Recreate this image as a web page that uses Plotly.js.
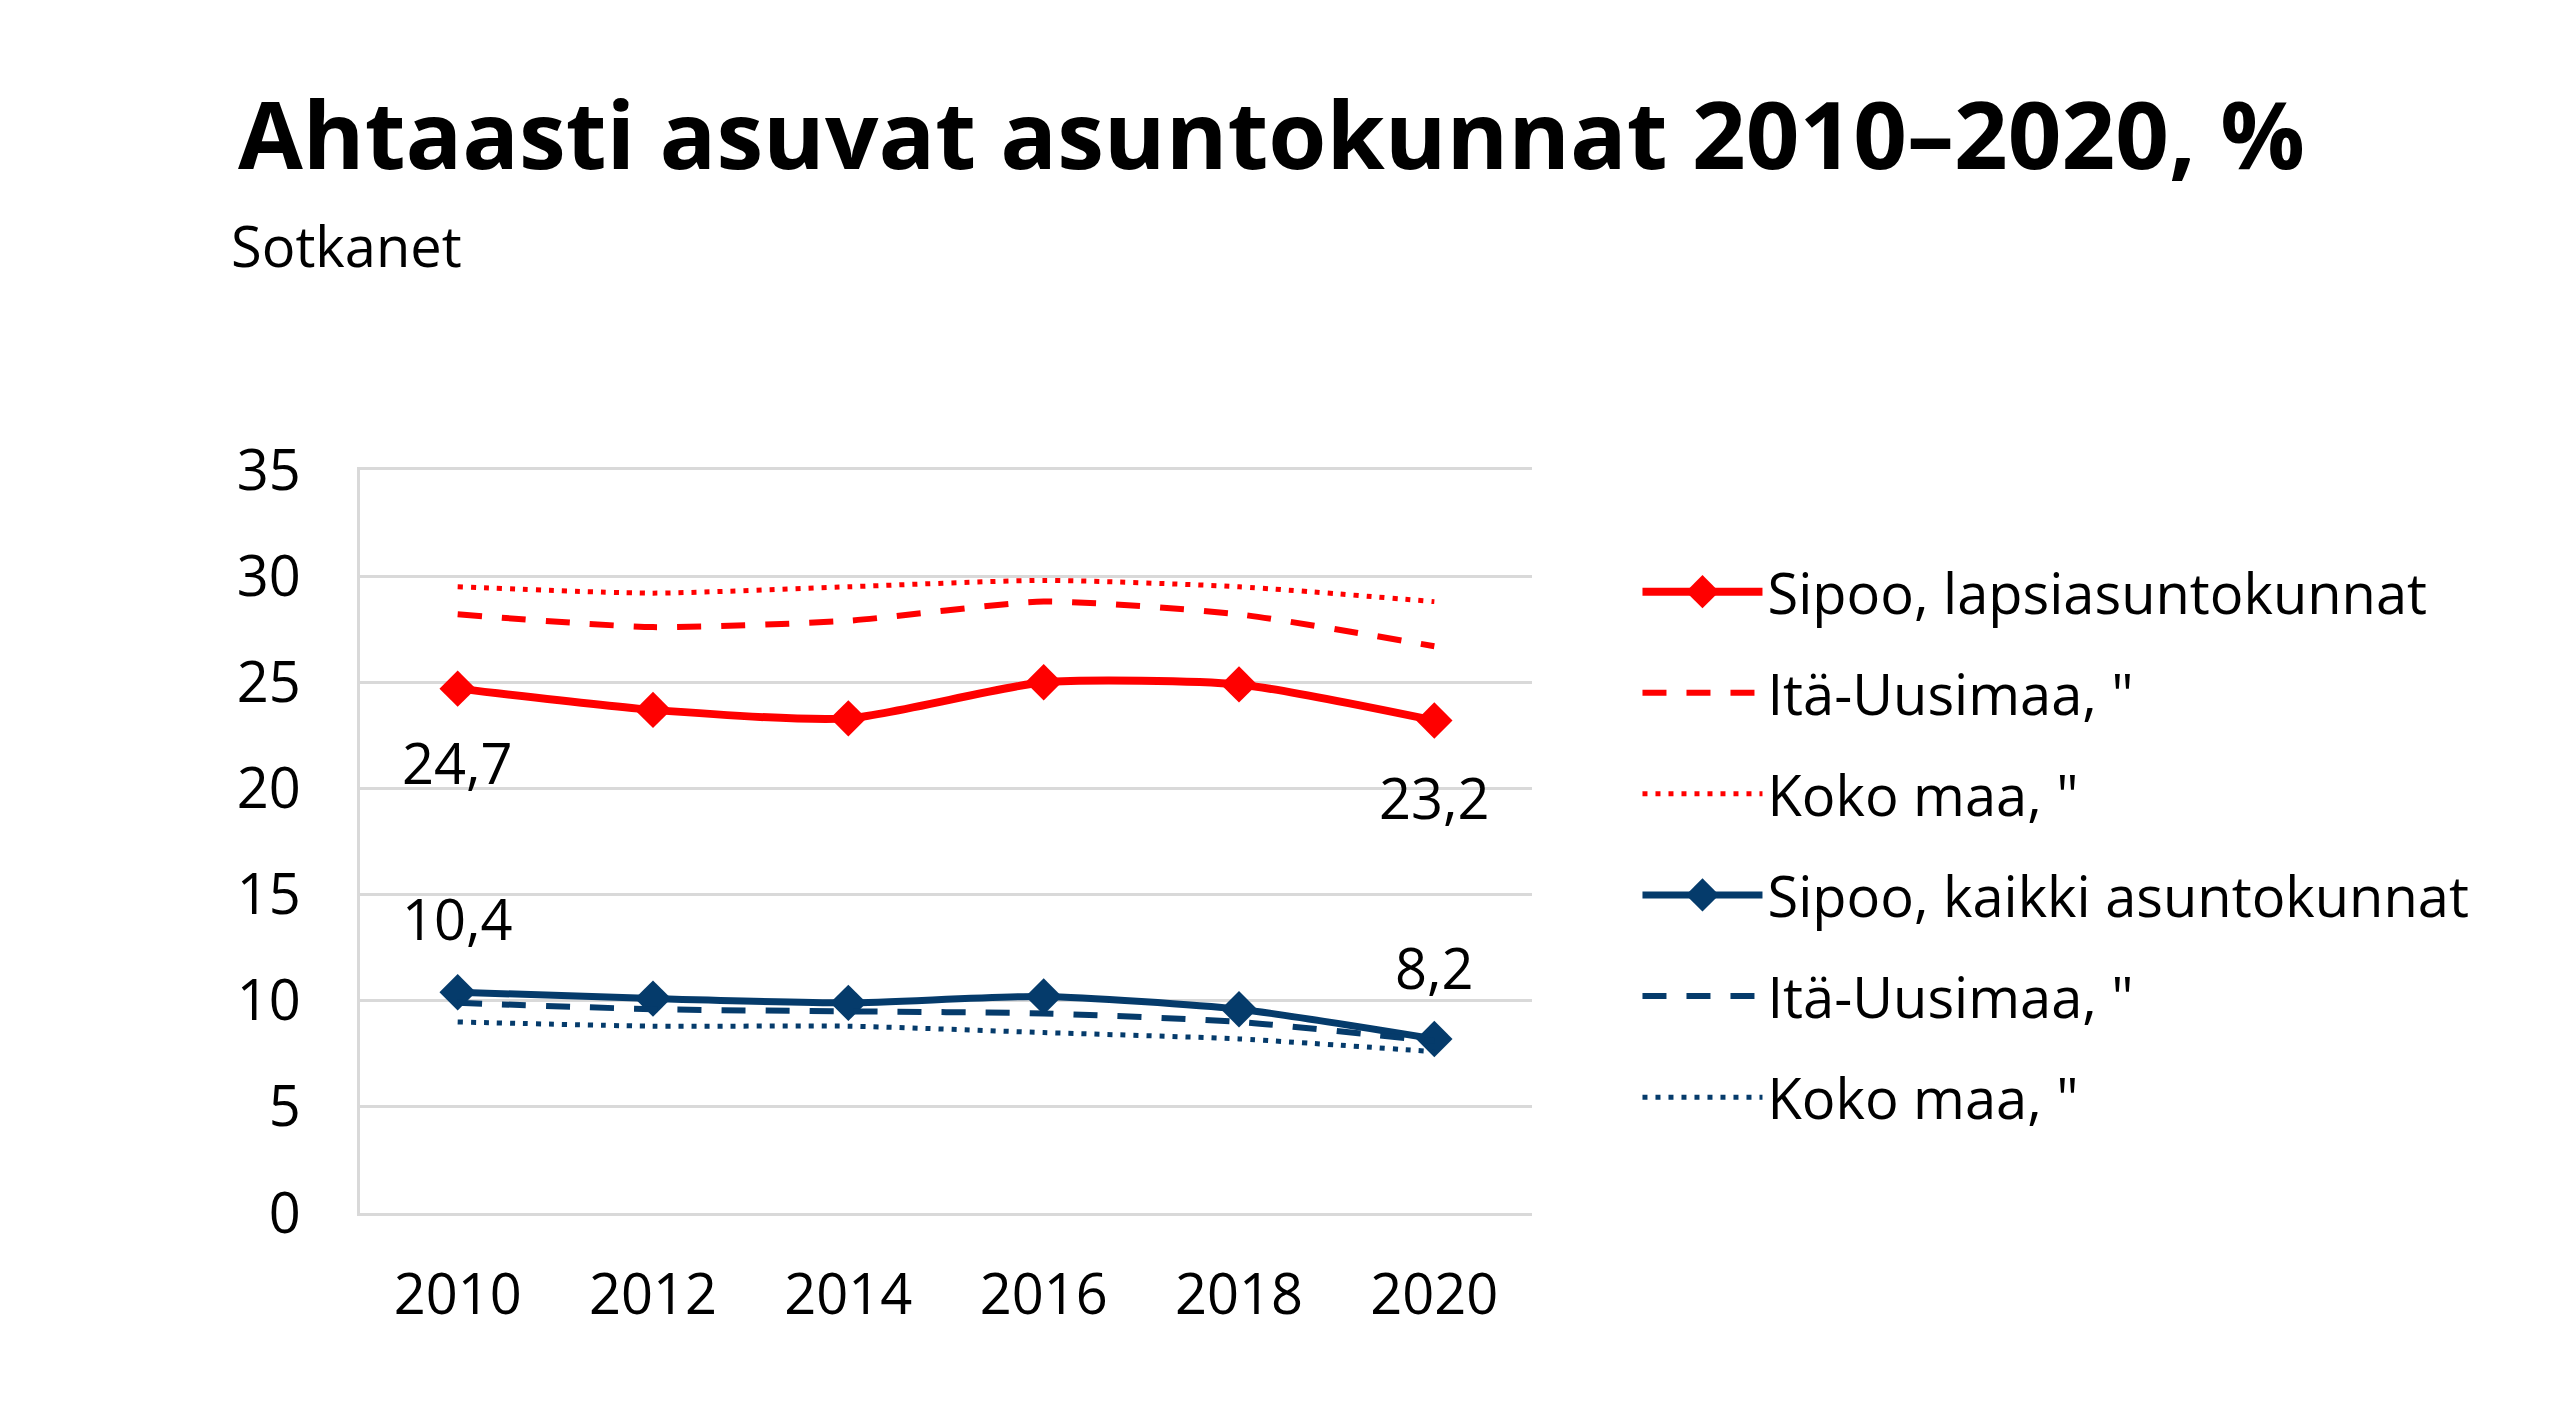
<!DOCTYPE html>
<html>
<head>
<meta charset="utf-8">
<script src="https://cdn.plot.ly/plotly-3.0.1.min.js"></script>
<style>html,body{margin:0;padding:0;background:#fff;}#chart{width:2560px;height:1416px;}</style>
</head>
<body>
<div id="chart"></div>
<script>
const years = [2010, 2012, 2014, 2016, 2018, 2020];
const sipooLapsi = [24.7, 23.7, 23.3, 25.0, 24.9, 23.2];
const itaUusimaaLapsi = [28.2, 27.6, 27.9, 28.8, 28.2, 26.7];
const kokoMaaLapsi = [29.5, 29.2, 29.5, 29.8, 29.5, 28.8];
const sipooKaikki = [10.4, 10.1, 9.9, 10.2, 9.6, 8.2];
const itaUusimaaKaikki = [9.9, 9.6, 9.5, 9.4, 9.0, 8.1];
const kokoMaaKaikki = [9.0, 8.8, 8.8, 8.5, 8.2, 7.6];
const seriesNames = ['Sipoo, lapsiasuntokunnat', 'Itä-Uusimaa, "', 'Koko maa, "',
                     'Sipoo, kaikki asuntokunnat', 'Itä-Uusimaa, "', 'Koko maa, "'];
const yTicks = [0, 5, 10, 15, 20, 25, 30, 35];

const RED = '#ff0000';
const BLUE = '#053b6b';
const FONT = 'Open Sans, sans-serif';

function mk(y, name, color, dash, width, markers, group) {
  return {
    x: years, y: y, name: name, type: 'scatter',
    mode: markers ? 'lines+markers' : 'lines',
    line: {color: color, width: width, dash: dash, shape: 'spline', smoothing: 0.6},
    marker: {symbol: 'diamond', size: 28, color: color},
    legendgroup: group, hoverinfo: 'skip'
  };
}

const traces = [
  mk(sipooLapsi, seriesNames[0], RED, 'solid', 8, true, 'g1'),
  mk(itaUusimaaLapsi, seriesNames[1], RED, '24px,20px', 6, false, 'g2'),
  mk(kokoMaaLapsi, seriesNames[2], RED, '5px,8px', 5, false, 'g3'),
  mk(sipooKaikki, seriesNames[3], BLUE, 'solid', 7, true, 'g4'),
  mk(itaUusimaaKaikki, seriesNames[4], BLUE, '24px,20px', 6, false, 'g5'),
  mk(kokoMaaKaikki, seriesNames[5], BLUE, '5px,8px', 5, false, 'g6')
];

function fmt(v) { return v.toFixed(1).replace('.', ','); }
const last = years.length - 1;
const labelFont = {family: FONT, size: 56, color: '#000'};
const annotations = [
  {x: years[0], y: sipooLapsi[0], text: fmt(sipooLapsi[0]), yshift: -73},
  {x: years[last], y: sipooLapsi[last], text: fmt(sipooLapsi[last]), yshift: -76},
  {x: years[0], y: sipooKaikki[0], text: fmt(sipooKaikki[0]), yshift: 74},
  {x: years[last], y: sipooKaikki[last], text: fmt(sipooKaikki[last]), yshift: 72}
].map(a => Object.assign({xref: 'x', yref: 'y', showarrow: false, font: labelFont,
                          xanchor: 'center', yanchor: 'middle'}, a));

annotations.push({
  xref: 'paper', yref: 'paper', x: -0.112, y: 1.303, xanchor: 'left', yanchor: 'middle',
  text: 'Sotkanet', showarrow: false, font: {family: FONT, size: 56, color: '#000'}
});

const layout = {
  width: 2560, height: 1416,
  margin: {l: 360, r: 1028, t: 470, b: 203, pad: 0},
  paper_bgcolor: '#fff', plot_bgcolor: '#fff',
  title: {
    text: 'Ahtaasti asuvat asuntokunnat 2010–2020, %',
    x: 238 / 2560, xref: 'container', xanchor: 'left',
    y: 1 - 136 / 1416, yref: 'container', yanchor: 'middle',
    font: {family: FONT, size: 94, color: '#000', weight: 700}
  },
  xaxis: {
    range: [2009, 2021], tickvals: years, ticktext: years.map(String),
    showgrid: false, zeroline: false, showline: true, mirror: true,
    linecolor: '#d9d9d9', linewidth: 3, ticks: '',
    ticklabelstandoff: 31,
    tickfont: {family: FONT, size: 56, color: '#000'}, fixedrange: true
  },
  yaxis: {
    range: [0, 35], tickvals: yTicks, ticktext: yTicks.map(String),
    showgrid: true, gridcolor: '#d9d9d9', gridwidth: 3,
    zeroline: false, showline: true, linecolor: '#d9d9d9', linewidth: 3,
    ticks: '', ticklabelstandoff: 45,
    tickfont: {family: FONT, size: 56, color: '#000'}, fixedrange: true
  },
  showlegend: true,
  legend: {
    x: 1.09, xanchor: 'left', y: 0.894, yanchor: 'top',
    font: {family: FONT, size: 56, color: '#000'},
    itemwidth: 120, tracegroupgap: 25.3, traceorder: 'grouped',
    bgcolor: 'rgba(0,0,0,0)', borderwidth: 0, itemclick: false, itemdoubleclick: false
  },
  annotations: annotations
};

Plotly.newPlot('chart', traces, layout, {displayModeBar: false, staticPlot: true}).then(function (gd) {
  gd.querySelectorAll('.legend .legendpoints path.scatterpts').forEach(function (p) {
    const t = p.getAttribute('transform') || '';
    p.setAttribute('transform', t + ' scale(1.6)');
  });
});
</script>
</body>
</html>
